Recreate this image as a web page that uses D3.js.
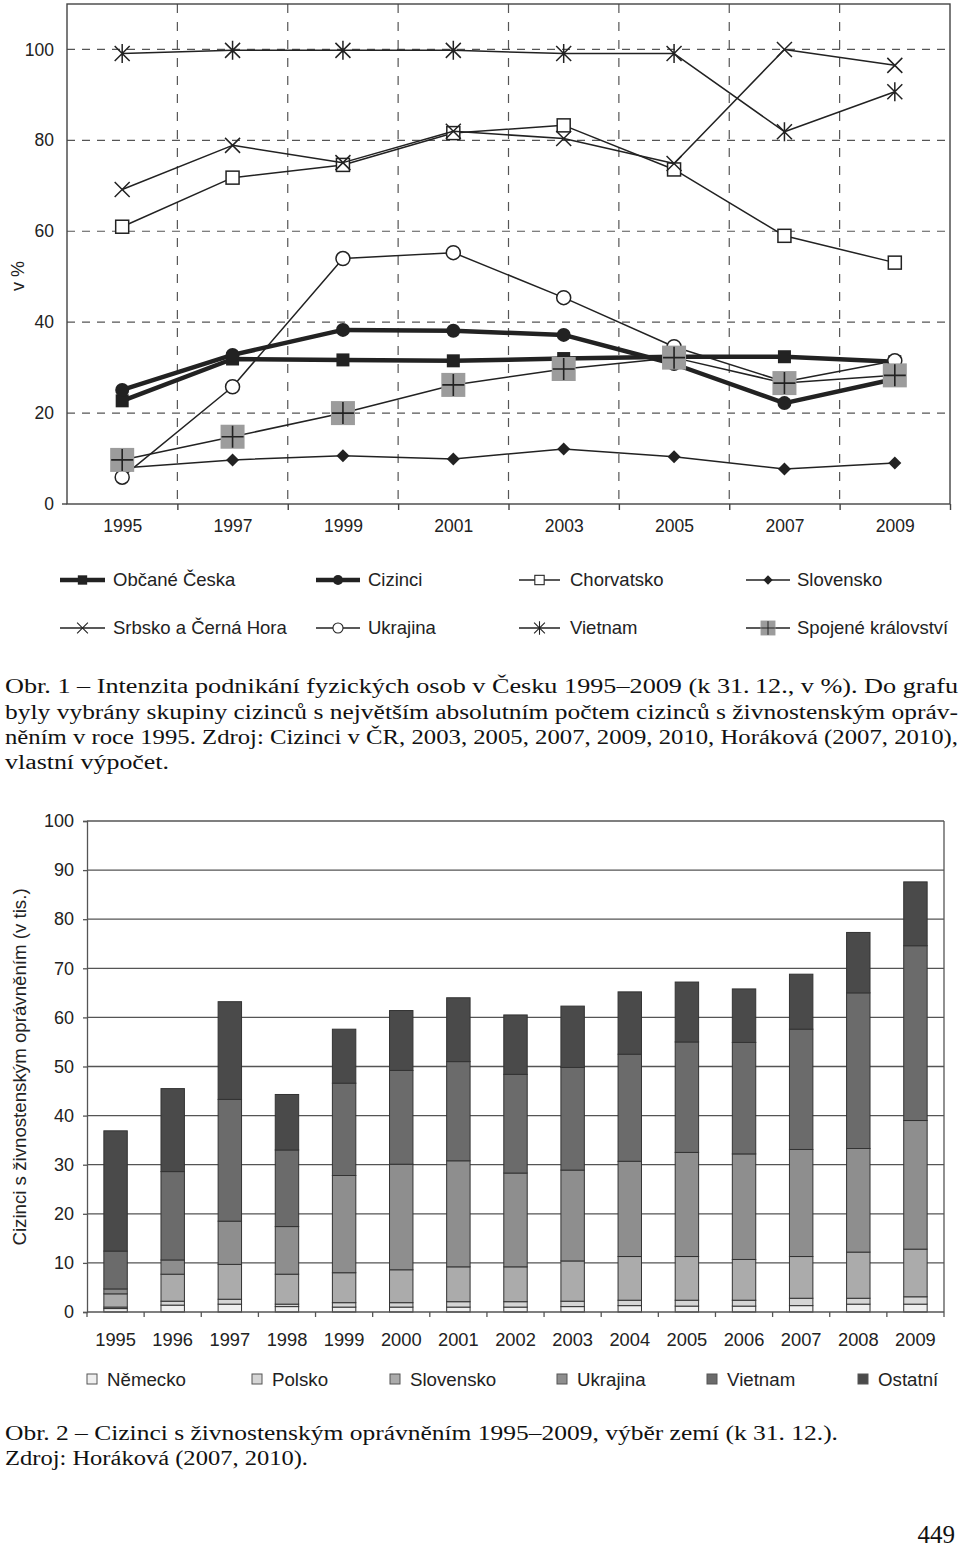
<!DOCTYPE html>
<html>
<head>
<meta charset="utf-8">
<script src="https://cdn.jsdelivr.net/npm/d3@7"></script>
<style>
  html, body { margin: 0; padding: 0; background: #fff; }
  svg { display: block; }
</style>
</head>
<body>
<script>
// ---------- DATA: top chart (v %) ----------
const yearsTop = [1995, 1997, 1999, 2001, 2003, 2005, 2007, 2009];
const obcaneCeska = [22.7, 31.9, 31.7, 31.5, 32.0, 32.4, 32.4, 31.3];
const cizinci     = [25.1, 32.8, 38.3, 38.1, 37.2, 30.8, 22.2, 27.5];
const chorvatsko  = [61.0, 71.8, 74.6, 81.6, 83.3, 73.6, 59.0, 53.1];
const slovensko   = [7.9, 9.7, 10.6, 9.9, 12.1, 10.4, 7.7, 9.0];
const srbsko      = [69.2, 78.9, 75.1, 82.0, 80.4, 74.9, 100.0, 96.5];
const ukrajina    = [5.9, 25.8, 54.0, 55.3, 45.4, 34.6, 26.9, 31.5];
const vietnam     = [99.1, 99.8, 99.8, 99.8, 99.1, 99.1, 81.9, 90.7];
const spojene     = [9.7, 14.8, 20.0, 26.2, 29.7, 32.2, 26.6, 28.3];
const topSeriesNames = ["Občané Česka", "Cizinci", "Chorvatsko", "Slovensko",
                        "Srbsko a Černá Hora", "Ukrajina", "Vietnam", "Spojené království"];
const topYTicks = [0, 20, 40, 60, 80, 100];

// ---------- DATA: bottom chart (v tis.) ----------
const yearsBottom = [1995, 1996, 1997, 1998, 1999, 2000, 2001, 2002, 2003, 2004, 2005, 2006, 2007, 2008, 2009];
const barNemecko   = [0.7, 1.4, 1.6, 1.1, 1.0, 1.0, 1.0, 1.0, 1.1, 1.3, 1.2, 1.2, 1.3, 1.6, 1.6];
const barPolsko    = [0.3, 0.8, 1.0, 0.5, 0.9, 0.9, 1.1, 1.1, 1.1, 1.1, 1.2, 1.2, 1.5, 1.2, 1.5];
const barSlovensko = [2.7, 5.5, 7.1, 6.1, 6.1, 6.7, 7.1, 7.1, 8.2, 8.9, 8.9, 8.3, 8.5, 9.4, 9.7];
const barUkrajina  = [1.0, 2.9, 8.8, 9.7, 19.8, 21.5, 21.6, 19.1, 18.5, 19.4, 21.2, 21.5, 21.8, 21.1, 26.2];
const barVietnam   = [7.7, 18.0, 24.8, 15.6, 18.8, 19.1, 20.2, 20.1, 20.9, 21.8, 22.5, 22.7, 24.5, 31.7, 35.6];
const barOstatni   = [24.5, 16.9, 19.9, 11.3, 11.0, 12.2, 13.0, 12.1, 12.5, 12.7, 12.2, 10.9, 11.2, 12.3, 13.0];
const bottomSeriesNames = ["Německo", "Polsko", "Slovensko", "Ukrajina", "Vietnam", "Ostatní"];
const bottomYTicks = [0, 10, 20, 30, 40, 50, 60, 70, 80, 90, 100];

// ---------- SETUP ----------
const W = 960, H = 1550;
const FONT = "'Liberation Sans', Arial, Helvetica, sans-serif";
const SERIF = "'Liberation Serif', 'Times New Roman', serif";
const INK = "#222";

const svg = d3.select("body").append("svg").attr("width", W).attr("height", H)
  .attr("viewBox", `0 0 ${W} ${H}`);
svg.append("rect").attr("width", W).attr("height", H).attr("fill", "#fff");

// =============== TOP CHART ===============
const xT = d3.scaleLinear().domain([1994, 2010]).range([67, 950]);
const yT = d3.scaleLinear().domain([0, 110]).range([504, 4]);
const topG = svg.append("g");

// dashed grid
topG.append("g").selectAll("line").data([20, 40, 60, 80, 100]).join("line")
  .attr("x1", xT(1994)).attr("x2", xT(2010))
  .attr("y1", d => yT(d)).attr("y2", d => yT(d))
  .attr("stroke", "#555").attr("stroke-width", 1.2).attr("stroke-dasharray", "8,7");
topG.append("g").selectAll("line").data([1996, 1998, 2000, 2002, 2004, 2006, 2008]).join("line")
  .attr("x1", d => xT(d)).attr("x2", d => xT(d))
  .attr("y1", yT(110)).attr("y2", yT(0))
  .attr("stroke", "#555").attr("stroke-width", 1.2).attr("stroke-dasharray", "9,9");

// frame
topG.append("rect").attr("x", xT(1994)).attr("y", yT(110))
  .attr("width", xT(2010) - xT(1994)).attr("height", yT(0) - yT(110))
  .attr("fill", "none").attr("stroke", "#444").attr("stroke-width", 1.4);

// bottom ticks (even years)
topG.append("g").attr("transform", `translate(0,${yT(0)})`)
  .call(d3.axisBottom(xT).tickValues([1996, 1998, 2000, 2002, 2004, 2006, 2008, 2010]).tickSize(6).tickFormat(""))
  .call(g => g.select(".domain").remove())
  .call(g => g.selectAll("line").attr("stroke", "#444").attr("stroke-width", 1.4));
// left tick at 0
topG.append("line").attr("x1", xT(1994) - 5).attr("x2", xT(1994)).attr("y1", yT(0)).attr("y2", yT(0))
  .attr("stroke", "#444").attr("stroke-width", 1.4);

// x labels
topG.append("g").attr("transform", `translate(0,${yT(0)})`)
  .call(d3.axisBottom(xT).tickValues(yearsTop).tickSize(0).tickPadding(16).tickFormat(d3.format("d")))
  .call(g => g.select(".domain").remove())
  .call(g => g.selectAll("text").attr("font-family", FONT).attr("font-size", 17.5).attr("fill", INK));
// y labels
topG.append("g").attr("transform", `translate(${xT(1994)},0)`)
  .call(d3.axisLeft(yT).tickValues(topYTicks).tickSize(0).tickPadding(13).tickFormat(d3.format("d")))
  .call(g => g.select(".domain").remove())
  .call(g => g.selectAll("text").attr("font-family", FONT).attr("font-size", 17.5).attr("fill", INK));

topG.append("text").attr("transform", `translate(24,276) rotate(-90)`)
  .attr("text-anchor", "middle").attr("font-family", FONT).attr("font-size", 18).attr("fill", INK)
  .text("v %");

// markers
function drawMarker(g, type, x, y, s) {
  const m = g.append("g").attr("transform", `translate(${x},${y}) scale(${s})`);
  switch (type) {
    case "fsquare":
      m.append("rect").attr("x", -6.5).attr("y", -6.5).attr("width", 13).attr("height", 13).attr("fill", INK); break;
    case "fcircle":
      m.append("circle").attr("r", 7).attr("fill", INK); break;
    case "osquare":
      m.append("rect").attr("x", -6.5).attr("y", -6.5).attr("width", 13).attr("height", 13)
        .attr("fill", "#fff").attr("stroke", INK).attr("stroke-width", 1.5); break;
    case "diamond":
      m.append("path").attr("d", "M0,-6.5L6.5,0L0,6.5L-6.5,0Z").attr("fill", INK); break;
    case "x":
      m.append("path").attr("d", "M-7.5,-7.5L7.5,7.5M-7.5,7.5L7.5,-7.5")
        .attr("stroke", INK).attr("stroke-width", 1.5).attr("fill", "none"); break;
    case "ocircle":
      m.append("circle").attr("r", 7).attr("fill", "#fff").attr("stroke", INK).attr("stroke-width", 1.5); break;
    case "asterisk":
      m.append("path").attr("d", "M-7.5,-7.5L7.5,7.5M-7.5,7.5L7.5,-7.5M0,-9.5L0,9.5")
        .attr("stroke", INK).attr("stroke-width", 1.5).attr("fill", "none"); break;
    case "uk":
      m.append("rect").attr("x", -12).attr("y", -12).attr("width", 24).attr("height", 24).attr("fill", "#9c9c9c");
      m.append("path").attr("d", "M-11,0L11,0M0,-11L0,11").attr("stroke", INK).attr("stroke-width", 1.6); break;
  }
}

const topSeries = [
  { name: topSeriesNames[0], values: obcaneCeska, marker: "fsquare", lw: 4.5 },
  { name: topSeriesNames[1], values: cizinci, marker: "fcircle", lw: 4.5 },
  { name: topSeriesNames[2], values: chorvatsko, marker: "osquare", lw: 1.5 },
  { name: topSeriesNames[3], values: slovensko, marker: "diamond", lw: 1.5 },
  { name: topSeriesNames[4], values: srbsko, marker: "x", lw: 1.5 },
  { name: topSeriesNames[5], values: ukrajina, marker: "ocircle", lw: 1.5 },
  { name: topSeriesNames[6], values: vietnam, marker: "asterisk", lw: 1.5 },
  { name: topSeriesNames[7], values: spojene, marker: "uk", lw: 1.5 }
];
const lineGen = d3.line().x(d => xT(d[0])).y(d => yT(d[1]));
topSeries.forEach(s => {
  const pts = yearsTop.map((yr, i) => [yr, s.values[i]]);
  const g = topG.append("g");
  g.append("path").attr("d", lineGen(pts)).attr("fill", "none")
    .attr("stroke", INK).attr("stroke-width", s.lw).attr("stroke-linejoin", "round");
  pts.forEach(p => drawMarker(g, s.marker, xT(p[0]), yT(p[1]), 1));
});

// top legend
const legTopX = [[60, 105, 113], [316, 360, 368], [519, 560, 570], [746, 790, 797]];
const legTopY = [580, 628];
topSeries.forEach((s, i) => {
  const col = i % 4, row = Math.floor(i / 4);
  const [x1, x2, tx] = legTopX[col];
  const y = legTopY[row];
  const g = svg.append("g");
  g.append("line").attr("x1", x1).attr("x2", x2).attr("y1", y).attr("y2", y)
    .attr("stroke", INK).attr("stroke-width", s.lw);
  drawMarker(g, s.marker, (x1 + x2) / 2, y, s.marker === "uk" ? 0.62 : 0.72);
  g.append("text").attr("x", tx).attr("y", y).attr("dy", "0.35em")
    .attr("font-family", FONT).attr("font-size", 18.5).attr("fill", INK).text(s.name);
});

// caption 1
const cap1 = [
  ["Obr. 1 – Intenzita podnikání fyzických osob v Česku 1995–2009 (k 31.\u200912., v %). Do grafu", 693, 953],
  ["byly vybrány skupiny cizinců s největším absolutním počtem cizinců s živnostenským opráv-", 719, 953],
  ["něním v roce 1995. Zdroj: Cizinci v ČR, 2003, 2005, 2007, 2009, 2010, Horáková (2007, 2010),", 744, 953],
  ["vlastní výpočet.", 769, 164]
];
cap1.forEach(([t, y, len]) => {
  svg.append("text").attr("x", 5).attr("y", y).attr("font-family", SERIF).attr("font-size", 20.5)
    .attr("fill", "#111").attr("textLength", len).attr("lengthAdjust", "spacingAndGlyphs").text(t);
});

// =============== BOTTOM CHART ===============
const xB = d3.scaleBand().domain(yearsBottom).range([87, 944]).paddingInner(0.59).paddingOuter(0.295);
const yB = d3.scaleLinear().domain([0, 100]).range([1312, 821]);
const botG = svg.append("g");

// gridlines
botG.append("g").selectAll("line").data(bottomYTicks.filter(d => d > 0)).join("line")
  .attr("x1", 87).attr("x2", 944).attr("y1", d => yB(d)).attr("y2", d => yB(d))
  .attr("stroke", "#555").attr("stroke-width", 1.3);
// right border
botG.append("line").attr("x1", 944).attr("x2", 944).attr("y1", yB(100)).attr("y2", yB(0))
  .attr("stroke", "#555").attr("stroke-width", 1.3);

// stacked bars
const barTable = yearsBottom.map((yr, i) => ({
  year: yr,
  "Německo": barNemecko[i], "Polsko": barPolsko[i], "Slovensko": barSlovensko[i],
  "Ukrajina": barUkrajina[i], "Vietnam": barVietnam[i], "Ostatní": barOstatni[i]
}));
const stack = d3.stack().keys(bottomSeriesNames)(barTable);
const barColors = ["#efefef", "#d5d5d5", "#ababab", "#8e8e8e", "#6b6b6b", "#4a4a4a"];
botG.append("g").selectAll("g").data(stack).join("g")
  .attr("fill", (d, i) => barColors[i])
  .selectAll("rect").data(d => d).join("rect")
  .attr("x", d => xB(d.data.year)).attr("width", xB.bandwidth())
  .attr("y", d => yB(d[1])).attr("height", d => yB(d[0]) - yB(d[1]))
  .attr("stroke", "#333").attr("stroke-width", 1);

// axes
botG.append("g").attr("transform", "translate(87,0)")
  .call(d3.axisLeft(yB).tickValues(bottomYTicks).tickSize(4).tickPadding(9).tickFormat(d3.format("d")))
  .call(g => g.select(".domain").attr("stroke", "#555").attr("stroke-width", 1.3))
  .call(g => g.selectAll("line").attr("stroke", "#555").attr("stroke-width", 1.3))
  .call(g => g.selectAll("text").attr("font-family", FONT).attr("font-size", 18).attr("fill", INK));

const boundaries = d3.range(yearsBottom.length + 1).map(i => 87 + i * xB.step());
botG.append("line").attr("x1", 87).attr("x2", 944).attr("y1", yB(0)).attr("y2", yB(0))
  .attr("stroke", "#555").attr("stroke-width", 1.3);
botG.append("g").selectAll("line").data(boundaries).join("line")
  .attr("x1", d => d).attr("x2", d => d).attr("y1", yB(0)).attr("y2", yB(0) + 5)
  .attr("stroke", "#555").attr("stroke-width", 1.3);

botG.append("g").attr("transform", `translate(0,${yB(0)})`)
  .call(d3.axisBottom(xB).tickSize(0).tickPadding(21).tickFormat(d3.format("d")))
  .call(g => g.select(".domain").remove())
  .call(g => g.selectAll("text").attr("font-family", FONT).attr("font-size", 18.3).attr("fill", INK));

botG.append("text").attr("transform", `translate(26,1067) rotate(-90)`)
  .attr("text-anchor", "middle").attr("font-family", FONT).attr("font-size", 18.7).attr("fill", INK)
  .text("Cizinci s živnostenským oprávněním (v tis.)");

// bottom legend
const legBotX = [92, 257, 395, 562, 712, 863];
bottomSeriesNames.forEach((n, i) => {
  const x = legBotX[i], y = 1379;
  svg.append("rect").attr("x", x - 5).attr("y", y - 5).attr("width", 10).attr("height", 10)
    .attr("fill", barColors[i]).attr("stroke", "#555").attr("stroke-width", 1);
  svg.append("text").attr("x", x + 15).attr("y", y).attr("dy", "0.35em")
    .attr("font-family", FONT).attr("font-size", 18.7).attr("fill", INK).text(n);
});

// caption 2
const cap2 = [
  ["Obr. 2 – Cizinci s živnostenským oprávněním 1995–2009, výběr zemí (k 31. 12.).", 1440, 833],
  ["Zdroj: Horáková (2007, 2010).", 1465, 303]
];
cap2.forEach(([t, y, len]) => {
  svg.append("text").attr("x", 5).attr("y", y).attr("font-family", SERIF).attr("font-size", 20.5)
    .attr("fill", "#111").attr("textLength", len).attr("lengthAdjust", "spacingAndGlyphs").text(t);
});
svg.append("text").attr("x", 955).attr("y", 1543).attr("text-anchor", "end")
  .attr("font-family", SERIF).attr("font-size", 25).attr("fill", "#111").text("449");
</script>
</body>
</html>
